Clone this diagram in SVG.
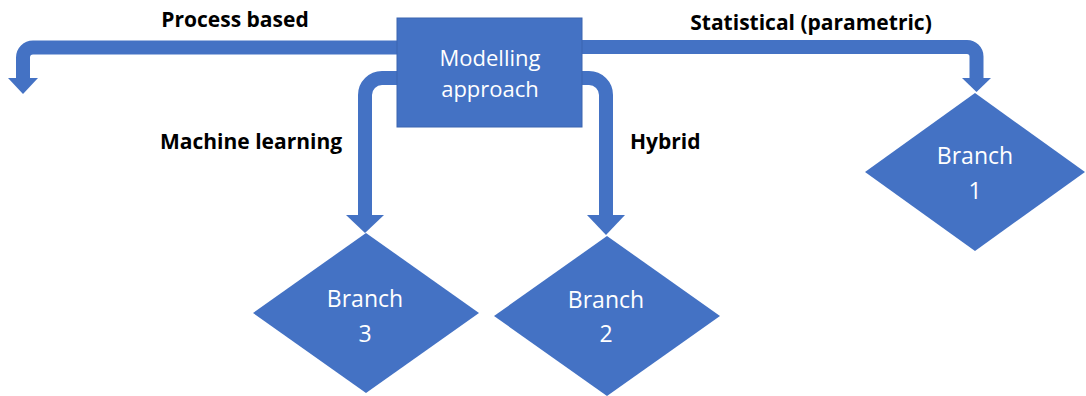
<svg xmlns="http://www.w3.org/2000/svg" width="1086" height="396" viewBox="0 0 1086 396">
  <style>
    .shape { fill: #4472C4; }
    .box { fill: #4472C4; stroke: #3B64B0; stroke-width: 1; }
    .conn { fill: none; stroke: #4472C4; stroke-width: 14; }
    .head { fill: #4472C4; }
    .ntext { font-family: "Open Sans", "Liberation Sans", sans-serif; font-size: 23px; fill: #FFFFFF; text-anchor: middle; }
    .btext { font-size: 22px; }
    .label { font-family: "Open Sans", "Liberation Sans", sans-serif; font-size: 21px; font-weight: bold; fill: #000000; }
  </style>
  <rect width="1086" height="396" fill="#FFFFFF"/>

  <g id="connectors">
    <path class="conn" d="M400,47.5 H33 A10,10 0 0 0 23,57.5 V80"/>
    <polygon class="head" points="8,78 38,78 23,94"/>
    <path class="conn" d="M580,47 H967 A9.5,9.5 0 0 1 976.5,56.5 V80"/>
    <polygon class="head" points="962,78 991,78 976.5,92"/>
    <path class="conn" d="M400,78 H382 A17,17 0 0 0 365,95 V217"/>
    <polygon class="head" points="346,215 384,215 365,233"/>
    <path class="conn" d="M580,78 H589 A17,17 0 0 1 606,95 V217"/>
    <polygon class="head" points="587,215 625,215 606,235"/>
  </g>

  <g id="labels">
    <text class="label" x="235" y="27" text-anchor="middle">Process based</text>
    <text class="label" x="811" y="30" text-anchor="middle">Statistical (parametric)</text>
    <text class="label" x="160" y="149">Machine learning</text>
    <text class="label" x="630" y="149">Hybrid</text>
  </g>

  <g id="modelling-approach">
    <rect class="box" x="397" y="18" width="185" height="109"/>
    <text class="ntext btext" x="490" y="66">Modelling</text>
    <text class="ntext btext" x="490" y="97">approach</text>
  </g>

  <g id="branch-1">
    <polygon class="shape" points="975,93 1085,172 975,251 865,172"/>
    <text class="ntext" x="975" y="164">Branch</text>
    <text class="ntext" x="975" y="199">1</text>
  </g>

  <g id="branch-2">
    <polygon class="shape" points="607,236 720,316 607,396 494,316"/>
    <text class="ntext" x="606" y="308">Branch</text>
    <text class="ntext" x="606" y="342">2</text>
  </g>

  <g id="branch-3">
    <polygon class="shape" points="366,233 479,313 366,393 253,313"/>
    <text class="ntext" x="365" y="307">Branch</text>
    <text class="ntext" x="365" y="342">3</text>
  </g>
</svg>
